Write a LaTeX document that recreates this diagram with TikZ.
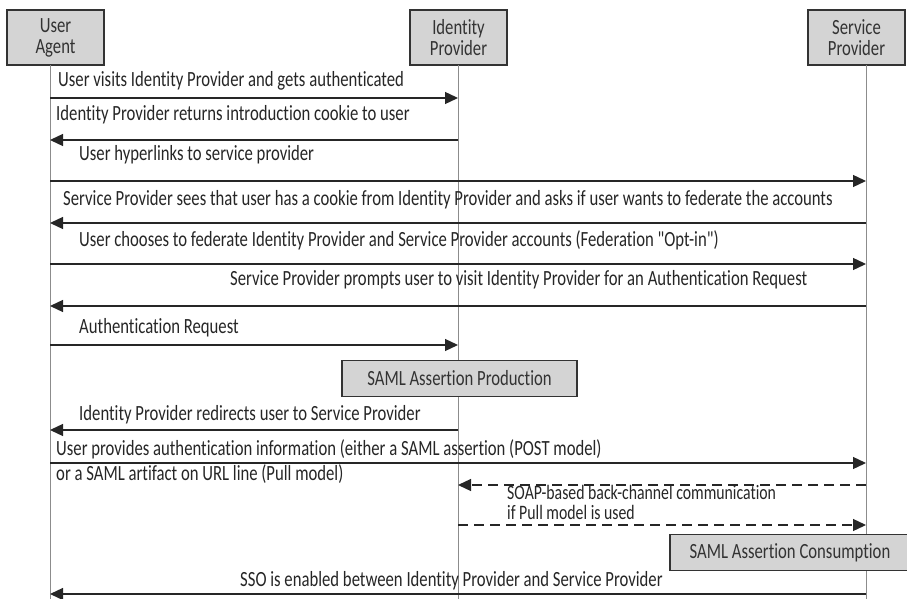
\documentclass[tikz,border=0pt]{standalone}
\usepackage{fontspec}
\setmainfont{Carlito}[FakeStretch=0.77, Ligatures={TeXOff,CommonOff}]
\usetikzlibrary{arrows.meta}

\tikzset{
  actor/.style={draw=black!80, fill=black!17, line width=1.2pt, align=center,
    minimum width=2.91cm, minimum height=1.65cm, inner sep=0pt, text=black!80},
  phase/.style={draw=black!80, fill=black!17, line width=1.2pt,
    minimum height=1.08cm, inner sep=0pt, text=black!80},
  life/.style={draw=black!45, line width=0.8pt},
  msg/.style={draw=black!85, line width=1.1pt, -{Triangle[length=0.39cm,width=0.36cm]}},
  back/.style={msg, dashed, dash pattern=on 0.3cm off 0.18cm},
  lbl/.style={anchor=base west, inner sep=0pt, text=black!85},
}

\begin{document}
\begin{tikzpicture}[x=0.03cm, y=-0.03cm, font=\fontsize{18.5}{18}\selectfont]
\useasboundingbox (0,0) rectangle (907,599);

% the three parties
\node [actor] (ua)  at (55.5,37.5)  {User\\Agent};
\node [actor] (idp) at (458.5,37.5) {Identity\\Provider};
\node [actor] (sp)  at (856.5,37.5) {Service\\Provider};
\coordinate (uaL)  at (50,65);
\coordinate (idpL) at (458,65);
\coordinate (spL)  at (866,65);
\draw [life] (uaL)  -- (uaL |- 0,599);
\draw [life] (idpL) -- (idpL |- 0,599);
\draw [life] (spL)  -- (spL |- 0,599);

% introduction
\node [lbl] (m1) at (58,87) {User visits Identity Provider and gets authenticated};
\draw [msg] (uaL |- 0,98) -- (idpL |- 0,98);
\node [lbl] (m2) at (56,121) {Identity Provider returns introduction cookie to user};
\draw [msg] (idpL |- 0,140) -- (uaL |- 0,140);
\node [lbl] (m3) at (79,161) {User hyperlinks to service provider};
\draw [msg] (uaL |- 0,181) -- (spL |- 0,181);
\node [lbl] (m4) at (63,206) {Service Provider sees that user has a cookie from Identity Provider and asks if user wants to federate the accounts};
\draw [msg] (spL |- 0,223) -- (uaL |- 0,223);
\node [lbl] (m5) at (79,246) {User chooses to federate Identity Provider and Service Provider accounts (Federation "Opt-in")};
\draw [msg] (uaL |- 0,264) -- (spL |- 0,264);
\node [lbl] (m6) at (230,285) {Service Provider prompts user to visit Identity Provider for an Authentication Request};
\draw [msg] (spL |- 0,306) -- (uaL |- 0,306);
\node [lbl] (m7) at (79,333) {Authentication Request};
\draw [msg] (uaL |- 0,345) -- (idpL |- 0,345);

% assertion
\node [phase, minimum width=7.05cm] (prod) at (459.5,378.5) {SAML Assertion Production};
\node [lbl] (m8) at (79,420) {Identity Provider redirects user to Service Provider};
\draw [msg] (idpL |- 0,430) -- (uaL |- 0,430);
\node [lbl] (m9) at (56,455) {User provides authentication information (either a SAML assertion (POST model)};
\draw [msg] (uaL |- 0,463) -- (spL |- 0,463);
\node [lbl] (m9b) at (56,480) {or a SAML artifact on URL line (Pull model)};

% back channel
\draw [back] (spL |- 0,485) -- (idpL |- 0,485);
\node [lbl, align=left, font=\fontsize{17.5}{17}\selectfont] (m10) at (507,519)
  {SOAP-based back-channel communication\\if Pull model is used};
\draw [back] (idpL |- 0,525) -- (spL |- 0,525);
\node [phase, minimum width=7.2cm] (cons) at (790,552.5) {SAML Assertion Consumption};

\node [lbl] (m11) at (240,586) {SSO is enabled between Identity Provider and Service Provider};
\draw [msg] (spL |- 0,594) -- (uaL |- 0,594);
\end{tikzpicture}
\end{document}
